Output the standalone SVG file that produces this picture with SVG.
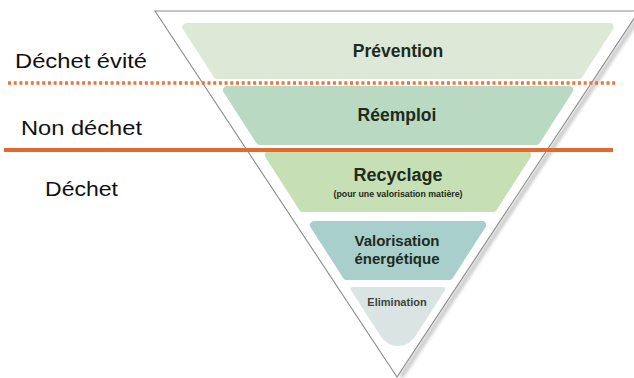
<svg xmlns="http://www.w3.org/2000/svg" width="634" height="378" viewBox="0 0 634 378">
<defs>
<filter id="sh" x="-20%" y="-20%" width="140%" height="140%"><feGaussianBlur stdDeviation="1.6"/></filter>
<style>
.band{stroke-width:8;stroke-linejoin:round}
.lbl{font-family:"Liberation Sans",Arial,sans-serif;font-weight:bold;fill:#1d2b20;text-anchor:middle}
.side{font-family:"Liberation Sans",Arial,sans-serif;font-size:21px;fill:#111}
.edge{fill:none;stroke:#8c8c8c;stroke-width:1.1}
</style>
</defs>
<rect width="634" height="378" fill="#ffffff"/>
<g id="frame">
<line x1="401" y1="377" x2="643" y2="11" stroke="#cfcfcf" stroke-width="5" filter="url(#sh)"/>
<polyline class="edge" points="634,11 155,11 397,377 639,11"/>
</g>
<g id="prevention">
<polygon class="band" fill="#dde8d6" stroke="#dde8d6" points="186.3,27 609.7,27 578.7,75 217.3,75"/>
<text class="lbl" x="398" y="57" font-size="17.5">Prévention</text>
</g>
<g id="reemploi">
<polygon class="band" fill="#bad9c2" stroke="#bad9c2" points="226.9,90 569.1,90 536.2,141 259.8,141"/>
<text class="lbl" x="397" y="121" font-size="17.5">Réemploi</text>
</g>
<g id="recyclage">
<polygon class="band" fill="#c7dfb4" stroke="#c7dfb4" points="268.8,155 527.2,155 493.1,208 302.9,208"/>
<text class="lbl" x="398" y="181" font-size="18">Recyclage</text>
<text class="lbl" x="398" y="197" font-size="8.8">(pour une valorisation matière)</text>
</g>
<g id="valorisation">
<polygon class="band" fill="#a9cfcd" stroke="#a9cfcd" points="313.9,225 482.1,225 449.3,276 346.7,276"/>
<text class="lbl" x="397" y="245.5" font-size="15">Valorisation</text>
<text class="lbl" x="397" y="263.5" font-size="15">énergétique</text>
</g>
<g id="elimination">
<path fill="#dae5e3" d="M353 287 H443 Q447 287 444.8 290.4 L416.1 335 C412 341.5 406 346 398 346 C390 346 384 341.5 379.9 335 L351.2 290.4 Q349 287 353 287 Z"/>
<text class="lbl" x="397" y="306" font-size="11" style="fill:#3b4442">Elimination</text>
</g>
<g id="connectors">
<line x1="8" y1="83" x2="617" y2="83" stroke="#e8763c" stroke-width="3.5" stroke-dasharray="3 2.7"/>
<line x1="4" y1="150" x2="613" y2="150" stroke="#e16b2d" stroke-width="4"/>
</g>
<g id="labels">
<text class="side" x="15" y="68" textLength="132" lengthAdjust="spacingAndGlyphs">Déchet évité</text>
<text class="side" x="21" y="135" textLength="121" lengthAdjust="spacingAndGlyphs">Non déchet</text>
<text class="side" x="45" y="196" textLength="73" lengthAdjust="spacingAndGlyphs">Déchet</text>
</g>
</svg>
